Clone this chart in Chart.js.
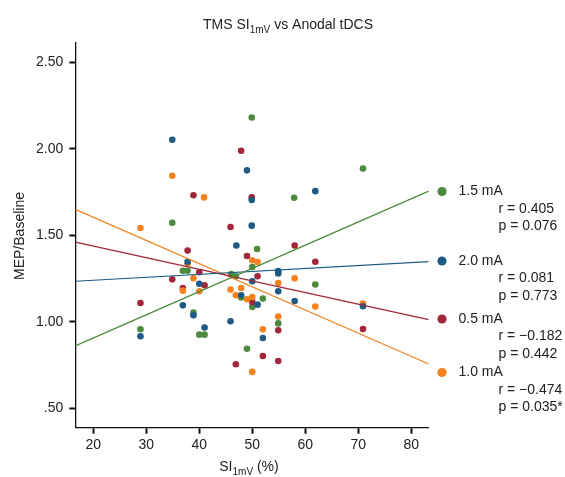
<!DOCTYPE html>
<html>
<head>
    <title>TMS SI1mV vs Anodal tDCS</title>
    <script src="https://cdn.jsdelivr.net/npm/chart.js"></script>
    <style>
        html, body { margin: 0; padding: 0; background: #fff; }
        #wrap { width: 565px; height: 477px; position: relative; }
    </style>
</head>
<body>
    <div id="wrap"><canvas id="tmsChart"></canvas></div>
    <script>
        // scatter data (x = SI1mV %, y = MEP/Baseline)
        const ma15X = [49.9, 70.9, 57.9, 34.9, 50.9, 36.9, 37.8, 28.9, 46.0, 46.9, 50.0, 54.9, 61.9, 47.9, 52.0, 50.0, 54.9, 40.0, 41.0, 38.9, 49.0];
        const ma15Y = [2.18, 1.886, 1.717, 1.573, 1.421, 1.296, 1.296, 0.958, 1.277, 1.264, 1.317, 1.288, 1.216, 1.141, 1.135, 1.087, 0.992, 0.927, 0.927, 1.054, 0.846];

        const ma20X = [34.9, 49.0, 49.9, 61.9, 49.9, 47.0, 37.8, 36.9, 28.9, 40.0, 54.9, 54.9, 50.0, 54.9, 47.9, 51.0, 58.0, 52.0, 45.9, 41.0, 38.9, 70.9];
        const ma20Y = [2.052, 1.875, 1.704, 1.755, 1.556, 1.441, 1.348, 1.096, 0.918, 1.221, 1.294, 1.280, 1.235, 1.177, 1.154, 1.100, 1.121, 0.908, 1.004, 0.968, 1.039, 1.091];

        const ma05X = [47.9, 38.9, 49.9, 45.9, 37.8, 34.9, 36.9, 28.9, 58.0, 49.0, 61.9, 40.0, 41.0, 51.0, 50.0, 54.9, 52.0, 46.9, 54.9, 70.9];
        const ma05Y = [1.988, 1.731, 1.719, 1.548, 1.412, 1.246, 1.196, 1.110, 1.441, 1.381, 1.348, 1.287, 1.212, 1.264, 1.115, 0.952, 0.804, 0.756, 0.775, 0.960];

        const ma10X = [34.9, 28.9, 40.9, 37.8, 36.9, 50.0, 51.0, 38.9, 40.0, 45.9, 47.9, 54.9, 58.0, 46.9, 49.0, 50.0, 61.9, 54.9, 52.0, 50.0, 70.9];
        const ma10Y = [1.844, 1.542, 1.719, 1.337, 1.181, 1.356, 1.346, 1.252, 1.177, 1.187, 1.196, 1.225, 1.252, 1.154, 1.131, 1.144, 1.089, 1.031, 0.958, 0.712, 1.106];

        // regression lines: value at the left and right end of the x axis
        const fitLeft = [0.862, 1.235, 1.461, 1.650];
        const fitRight = [1.755, 1.348, 1.014, 0.758];

        const groupLabels = ['1.5 mA', '2.0 mA', '0.5 mA', '1.0 mA'];
        const rValues = ['r = 0.405', 'r = 0.081', 'r = \u22120.182', 'r = \u22120.474'];
        const pValues = ['p = 0.076', 'p = 0.773', 'p = 0.442', 'p = 0.035*'];
        const groupColors = ['#4d8a3d', '#1d5b84', '#a2273b', '#f4821f'];

        const xTicks = [20, 30, 40, 50, 60, 70, 80];
        const yTicks = [0.5, 1.0, 1.5, 2.0, 2.5];
        const yTickLabels = ['.50', '1.00', '1.50', '2.00', '2.50'];

        const xMin = 16.6, xMax = 83.3, yMin = 0.39, yMax = 2.61;

        const FONT = '"Liberation Sans", Arial, Helvetica, sans-serif';
        const TEXT = '#222';

        function pts(xs, ys) {
            return xs.map((x, i) => ({ x: x, y: ys[i] }));
        }

        const groupX = [ma15X, ma20X, ma05X, ma10X];
        const groupY = [ma15Y, ma20Y, ma05Y, ma10Y];
        const pointOrder = [4, 1, 3, 2];

        const datasets = [];
        groupX.forEach((xs, g) => {
            datasets.push({
                label: groupLabels[g],
                data: pts(xs, groupY[g]),
                backgroundColor: groupColors[g],
                borderWidth: 0,
                pointRadius: 3.3,
                pointHoverRadius: 3.3,
                order: pointOrder[g]
            });
        });
        groupX.forEach((xs, g) => {
            datasets.push({
                label: groupLabels[g] + ' fit',
                data: [{ x: xMin, y: fitLeft[g] }, { x: xMax, y: fitRight[g] }],
                showLine: true,
                borderColor: groupColors[g],
                borderWidth: 1.2,
                pointRadius: 0,
                order: 0
            });
        });

        // draws a run of text pieces, some as subscripts
        function drawRuns(c, runs, x, y, align) {
            let total = 0;
            runs.forEach(r => {
                c.font = r.size + 'px ' + FONT;
                total += c.measureText(r.t).width;
            });
            let cx = align === 'center' ? x - total / 2 : x;
            c.textAlign = 'left';
            c.textBaseline = 'alphabetic';
            runs.forEach(r => {
                c.font = r.size + 'px ' + FONT;
                c.fillText(r.t, cx, y + (r.dy || 0));
                cx += c.measureText(r.t).width;
            });
        }

        const annotations = {
            id: 'annotations',
            afterDraw(chart) {
                const c = chart.ctx;
                c.save();
                c.fillStyle = TEXT;

                drawRuns(c, [
                    { t: 'TMS SI', size: 14 },
                    { t: '1mV', size: 10, dy: 4 },
                    { t: ' vs Anodal tDCS', size: 14 }
                ], 288, 29, 'center');

                drawRuns(c, [
                    { t: 'SI', size: 14 },
                    { t: '1mV', size: 10, dy: 4 },
                    { t: ' (%)', size: 14 }
                ], 249, 471, 'center');

                c.save();
                c.translate(23.5, 236);
                c.rotate(-Math.PI / 2);
                c.font = '14px ' + FONT;
                c.textAlign = 'center';
                c.textBaseline = 'alphabetic';
                c.fillText('MEP/Baseline', 0, 0);
                c.restore();

                // legend with correlation stats
                const rowY = [191.5, 261, 319, 372.5];
                c.font = '14px ' + FONT;
                c.textBaseline = 'middle';
                c.textAlign = 'left';
                rowY.forEach((y, i) => {
                    c.fillStyle = groupColors[i];
                    c.beginPath();
                    c.arc(442, y, 4.6, 0, Math.PI * 2);
                    c.fill();
                    c.fillStyle = TEXT;
                    c.fillText(groupLabels[i], 458.5, y);
                    c.fillText(rValues[i], 498.5, y + 17.5);
                    c.fillText(pValues[i], 498.5, y + 35);
                });
                c.restore();
            }
        };

        const ctx = document.getElementById('tmsChart').getContext('2d');
        new Chart(ctx, {
            type: 'scatter',
            data: { datasets: datasets },
            plugins: [annotations],
            options: {
                responsive: true,
                maintainAspectRatio: false,
                animation: false,
                events: [],
                layout: { padding: { top: 43, right: 136.3, left: 0, bottom: 0 } },
                plugins: {
                    legend: { display: false },
                    tooltip: { enabled: false },
                    title: { display: false }
                },
                scales: {
                    x: {
                        type: 'linear',
                        min: xMin,
                        max: xMax,
                        afterBuildTicks: axis => { axis.ticks = xTicks.map(v => ({ value: v })); },
                        afterFit: axis => { axis.height = 49.3; },
                        grid: { drawOnChartArea: false, drawTicks: true, tickLength: 6, tickWidth: 2, tickColor: '#111' },
                        border: { display: true, color: '#111', width: 1.3 },
                        ticks: {
                            padding: 3,
                            color: TEXT,
                            font: { family: FONT, size: 14 },
                            callback: v => String(v)
                        }
                    },
                    y: {
                        type: 'linear',
                        min: yMin,
                        max: yMax,
                        afterBuildTicks: axis => { axis.ticks = yTicks.map(v => ({ value: v })); },
                        afterFit: axis => { axis.width = 75.3; },
                        grid: { drawOnChartArea: false, drawTicks: true, tickLength: 6, tickWidth: 2, tickColor: '#111' },
                        border: { display: true, color: '#111', width: 1.3 },
                        ticks: {
                            padding: 6,
                            color: TEXT,
                            font: { family: FONT, size: 14 },
                            callback: v => yTickLabels[yTicks.indexOf(v)]
                        }
                    }
                }
            }
        });
    </script>
</body>
</html>
